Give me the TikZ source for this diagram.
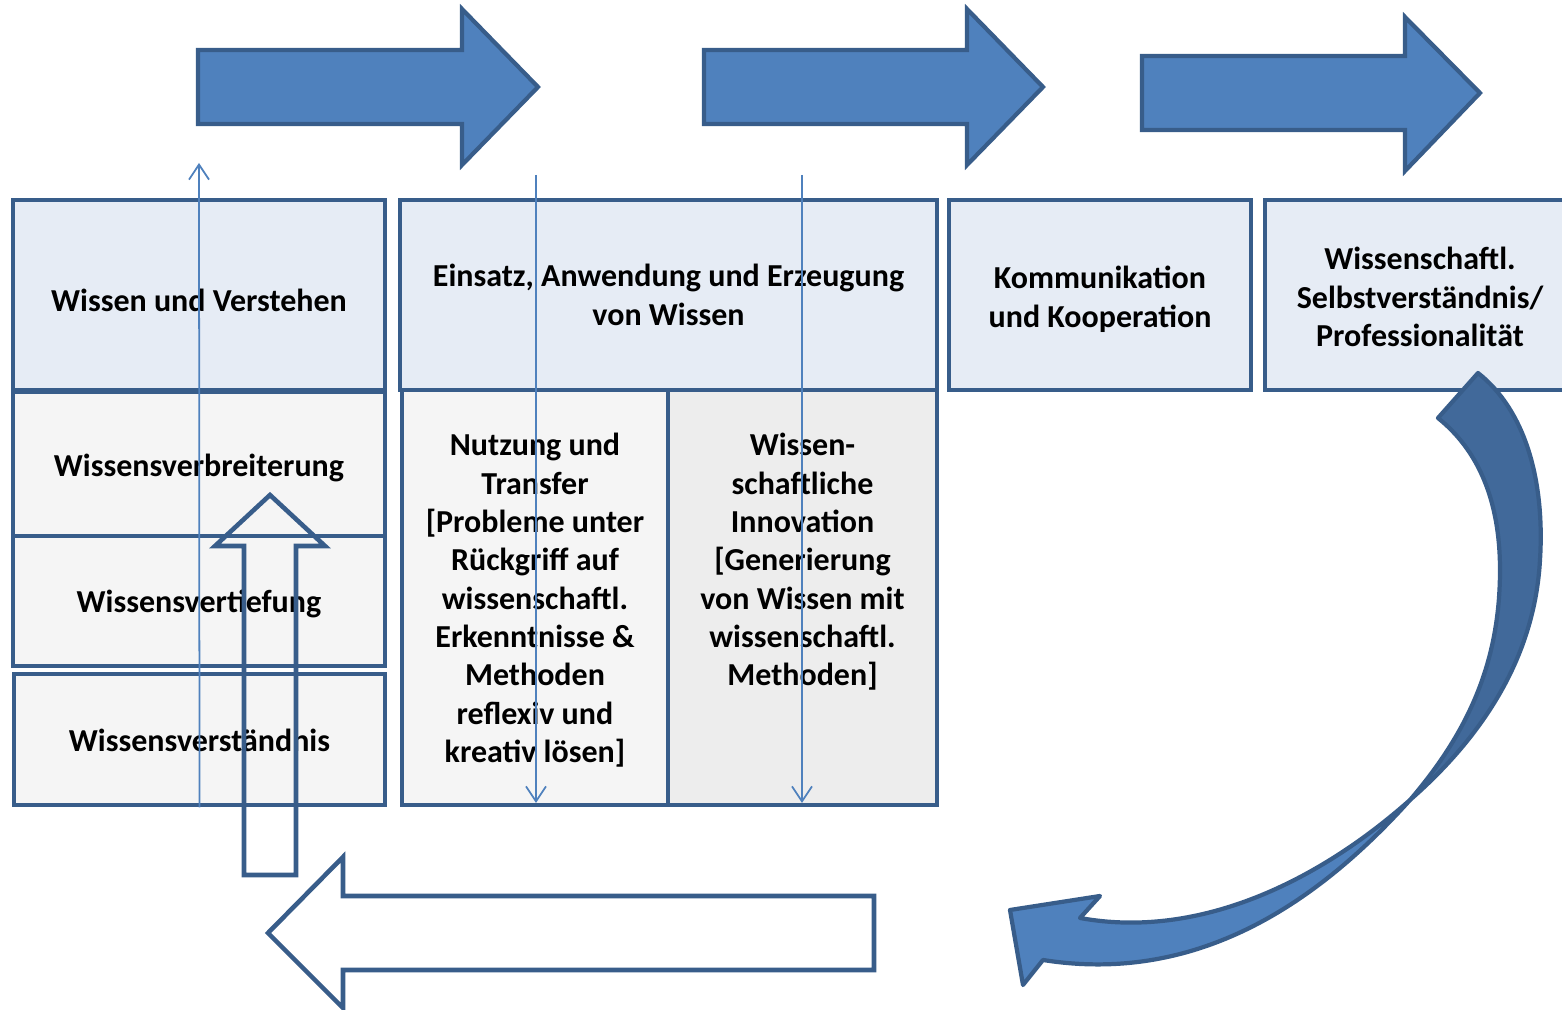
\documentclass[tikz,border=0pt]{standalone}
\usepackage{fontspec}
\setmainfont{Carlito}
\usetikzlibrary{arrows.meta}
\definecolor{pfeilblau}{HTML}{4F81BD}
\definecolor{pfeildunkel}{HTML}{41699A}
\definecolor{rahmenblau}{HTML}{385D8A}
\definecolor{kopfblau}{HTML}{E6ECF5}
\definecolor{hellgrau}{HTML}{F5F5F5}
\definecolor{mittelgrau}{HTML}{EDEDED}
\newcommand{\kastenschrift}{\fontsize{9.1}{10.9}\selectfont\bfseries}
\tikzset{
  kasten/.style={draw=rahmenblau, line width=1.3pt, fill=hellgrau, inner sep=0pt,
    align=center, font=\kastenschrift},
  kopfkasten/.style={kasten, fill=kopfblau, minimum height=1.9cm},
  blockpfeil/.style={draw=rahmenblau, line width=1.2pt, fill=pfeilblau, line join=miter},
  hohlpfeil/.style={draw=rahmenblau, line width=1.3pt, line join=miter},
  leitlinie/.style={draw=pfeilblau, line width=0.5pt, -{Straight Barb[length=1.5mm,width=2mm]}}
}
\begin{document}
\begin{tikzpicture}[x=0.01cm, y=-0.01cm]
\useasboundingbox (0,0) rectangle (1562,1010);
% Pfeile oben
\draw[blockpfeil] (198,50) -- (462,50) -- (462,9) -- (538,87) -- (462,165) -- (462,124) -- (198,124) -- cycle;
\draw[blockpfeil] (704,50) -- (967,50) -- (967,9) -- (1043,87) -- (967,165) -- (967,124) -- (704,124) -- cycle;
\draw[blockpfeil] (1142,56) -- (1405,56) -- (1405,17) -- (1480,93) -- (1405,171) -- (1405,130) -- (1142,130) -- cycle;

% Kopfzeile
\node[kopfkasten, minimum width=3.72cm, text height=9.3pt, text depth=0pt] (wissen) at (199,295) {Wissen und Verstehen};
\node[kopfkasten, minimum width=5.37cm] (einsatz) at (668.5,295) {Einsatz, Anwendung und Erzeugung\\von Wissen};
\node[kopfkasten, minimum width=3.02cm] (kommunikation) at (1100,295) {\rule{0pt}{8.9pt}Kommunikation\\und Kooperation};
\node[kopfkasten, minimum width=3.10cm] (selbst) at (1420,295) {\rule{0pt}{7.6pt}Wissenschaftl.\\Selbstverständnis/\\Professionalität};

% Stufen links
\node[kasten, minimum width=3.72cm, minimum height=1.44cm, text height=7.1pt, text depth=0pt] (verbreiterung) at (199,464) {Wissensverbreiterung};
\node[kasten, minimum width=3.72cm, minimum height=1.30cm, text height=6.5pt, text depth=0pt] (vertiefung) at (199,601) {Wissensvertiefung};
\node[kasten, minimum width=3.71cm, minimum height=1.31cm, text height=6.8pt, text depth=0pt] (verstaendnis) at (199.5,739.5) {Wissensverständnis};

% Spalten Mitte
\node[kasten, minimum width=2.66cm, minimum height=4.15cm] (nutzung) at (535,597.5)
  {\rule{0pt}{8pt}Nutzung und\\Transfer\\{[}Probleme unter\\Rückgriff auf\\wissenschaftl.\\Erkenntnisse \&\\Methoden\\reflexiv und\\kreativ lösen{]}};
\node[kasten, fill=mittelgrau, minimum width=2.69cm, minimum height=4.15cm] (innovation) at (802.5,597.5) {};
\node[align=center, font=\kastenschrift, anchor=north] (innotext) at (802.5,421)
  {Wissen-\\schaftliche\\Innovation\\{[}Generierung\\von Wissen mit\\wissenschaftl.\\Methoden{]}};

% duenne Linien
\coordinate (obenlinks) at (199,163);
\coordinate (startnutzung) at (536,175);
\coordinate (startinno) at (802,175);
\draw[leitlinie] (verstaendnis.south) -- (obenlinks);
\draw[leitlinie] (startnutzung) -- (536,803);
\draw[leitlinie] (startinno) -- (802,803);

% Hohlpfeile
\draw[hohlpfeil] (244,875) -- (244,546) -- (215,546) -- (270,495) -- (325,546) -- (296,546) -- (296,875) -- cycle;
\draw[hohlpfeil] (874,896) -- (343,896) -- (343,857) -- (268,933) -- (343,1008) -- (343,970) -- (874,970) -- cycle;

% gebogener Pfeil
\draw[blockpfeil, fill=pfeildunkel, line join=round] (1438,418) -- (1478,373)
  .. controls (1525,410) and (1545,480) .. (1540,560)
  .. controls (1535,650) and (1490,730) .. (1410,800)
  .. controls (1470,730) and (1500,660) .. (1500,570)
  .. controls (1500,500) and (1478,450) .. (1438,418) -- cycle;
\draw[blockpfeil, line join=round] (1410,800)
  .. controls (1320,900) and (1200,985) .. (1043,960)
  -- (1023,985) -- (1010,910) -- (1100,896) -- (1080,918)
  .. controls (1200,940) and (1320,880) .. (1410,800) -- cycle;
\end{tikzpicture}
\end{document}
